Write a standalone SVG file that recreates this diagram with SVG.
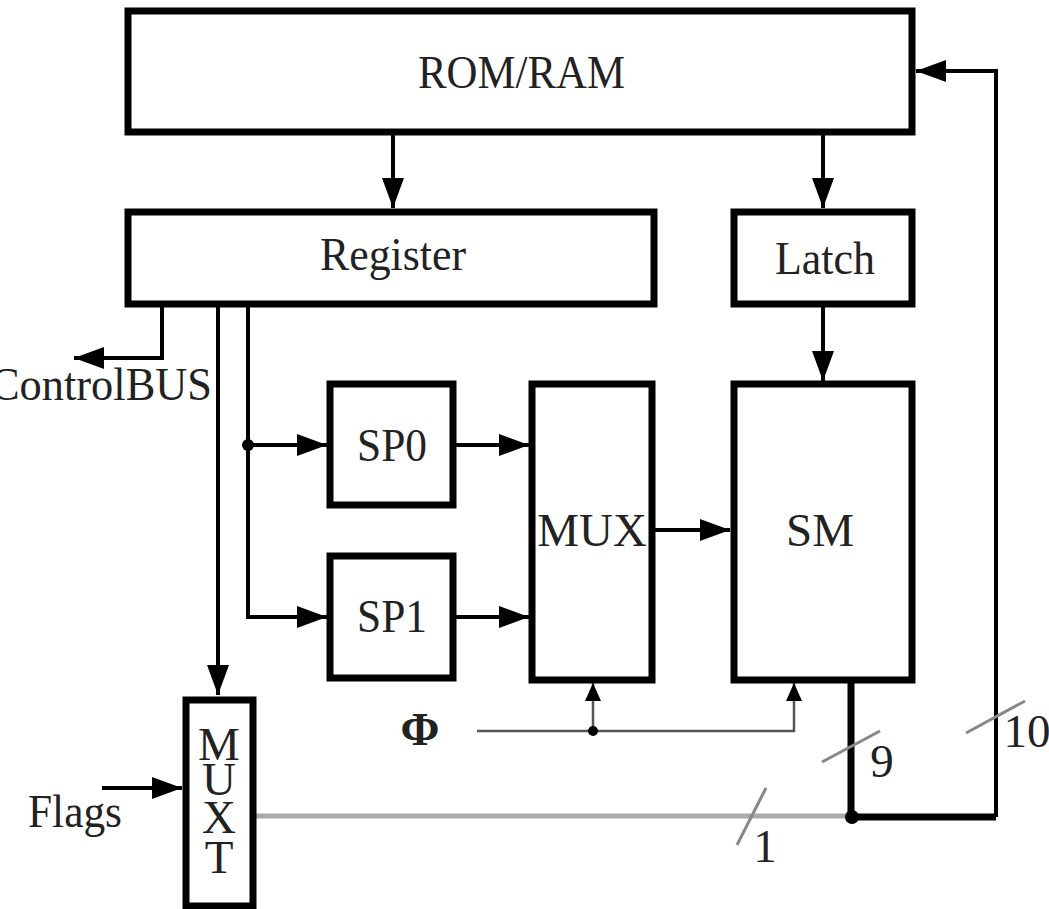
<svg xmlns="http://www.w3.org/2000/svg" width="1049" height="909" viewBox="0 0 1049 909">
<style>
.box{fill:#fff;stroke:#000;stroke-width:7}
.lbl{font-family:"Liberation Serif","Times New Roman",serif;font-size:47px;fill:#222}
.w{fill:none;stroke:#000;stroke-width:4}
.thin{fill:none;stroke:#555;stroke-width:2.5}
.bus{fill:none;stroke:#000;stroke-width:7}
.gray{fill:none;stroke:#aaa;stroke-width:5}
.slash{fill:none;stroke:#888;stroke-width:3}
.dot{fill:#000}
</style>
<defs>
<marker id="ah" viewBox="0 0 30 22" refX="30" refY="11" markerWidth="30" markerHeight="22" markerUnits="userSpaceOnUse" orient="auto"><path d="M0,0 L30,11 L0,22 z" fill="#000"/></marker>
<marker id="ahs" viewBox="0 0 18 16" refX="18" refY="8" markerWidth="18" markerHeight="16" markerUnits="userSpaceOnUse" orient="auto"><path d="M0,0 L18,8 L0,16 z" fill="#000"/></marker>
</defs>
<rect width="1049" height="909" fill="#fff"/>
<g id="connectors">
<path class="w" d="M393,132 L393,208" marker-end="url(#ah)"/>
<path class="w" d="M823,132 L823,208" marker-end="url(#ah)"/>
<path class="w" d="M823,304 L823,381" marker-end="url(#ah)"/>
<path class="w" d="M996,817 L996,71 L916,71" marker-end="url(#ah)"/>
<path class="w" d="M162,304 L162,358 L74,358" marker-end="url(#ah)"/>
<path class="w" d="M218,304 L218,695" marker-end="url(#ah)"/>
<path class="w" d="M248,304 L248,617 L327,617" marker-end="url(#ah)"/>
<path class="w" d="M248,445 L327,445" marker-end="url(#ah)"/>
<path class="w" d="M453,445 L529,445" marker-end="url(#ah)"/>
<path class="w" d="M453,617 L529,617" marker-end="url(#ah)"/>
<path class="w" d="M655,530 L730,530" marker-end="url(#ah)"/>
<path class="w" d="M102,788 L182,788" marker-end="url(#ah)"/>
<path class="thin" d="M477,731 L794,731 L794,683" marker-end="url(#ahs)"/>
<path class="thin" d="M593,731 L593,683" marker-end="url(#ahs)"/>
<path class="gray" d="M256,816 L852,816"/>
<path class="bus" d="M851,683 L851,817 L996,817"/>
<circle class="dot" cx="248" cy="445" r="6"/>
<circle class="dot" cx="593" cy="731" r="5"/>
<circle class="dot" cx="852" cy="817" r="7"/>
<path class="slash" d="M822,762 L880,731"/>
<path class="slash" d="M966,733 L1025,701"/>
<path class="slash" d="M737,845 L766,788"/>
<text class="lbl" x="882" y="777" text-anchor="middle">9</text>
<text class="lbl" x="1027" y="747" text-anchor="middle">10</text>
<text class="lbl" x="765" y="862" text-anchor="middle">1</text>
<text class="lbl" x="420" y="745" text-anchor="middle" font-weight="bold" font-size="40">Φ</text>
<text class="lbl" x="-10" y="400" textLength="222" lengthAdjust="spacingAndGlyphs">ControlBUS</text>
<text class="lbl" x="28" y="827" textLength="94" lengthAdjust="spacingAndGlyphs">Flags</text>
</g>
<g id="rom">
<rect class="box" x="128" y="11" width="784" height="121"/>
<text class="lbl" x="418" y="88" textLength="207" lengthAdjust="spacingAndGlyphs">ROM/RAM</text>
</g>
<g id="register">
<rect class="box" x="128" y="212" width="526" height="92"/>
<text class="lbl" x="320" y="270" textLength="146" lengthAdjust="spacingAndGlyphs">Register</text>
</g>
<g id="latch">
<rect class="box" x="734" y="212" width="178" height="92"/>
<text class="lbl" x="775" y="274" textLength="100" lengthAdjust="spacingAndGlyphs">Latch</text>
</g>
<g id="sp0">
<rect class="box" x="330" y="384" width="123" height="121"/>
<text class="lbl" x="357" y="461" textLength="70" lengthAdjust="spacingAndGlyphs">SP0</text>
</g>
<g id="sp1">
<rect class="box" x="330" y="556" width="123" height="122"/>
<text class="lbl" x="357" y="632" textLength="70" lengthAdjust="spacingAndGlyphs">SP1</text>
</g>
<g id="mux">
<rect class="box" x="532" y="384" width="120" height="296"/>
<text class="lbl" x="592" y="546" text-anchor="middle">MUX</text>
</g>
<g id="sm">
<rect class="box" x="734" y="384" width="178" height="296"/>
<text class="lbl" x="820" y="546" text-anchor="middle">SM</text>
</g>
<g id="muxt">
<rect class="box" x="186" y="700" width="67" height="206"/>
<text class="lbl" x="219" y="760" text-anchor="middle" font-size="44">M</text>
<text class="lbl" x="219" y="795" text-anchor="middle" font-size="44">U</text>
<text class="lbl" x="219" y="833" text-anchor="middle" font-size="44">X</text>
<text class="lbl" x="219" y="873" text-anchor="middle" font-size="44">T</text>
</g>
</svg>
